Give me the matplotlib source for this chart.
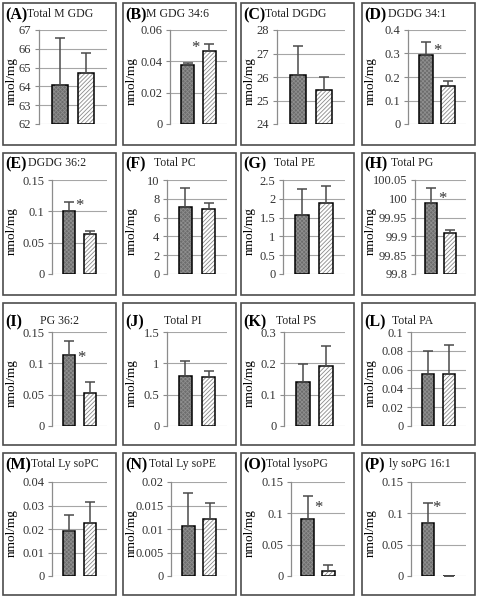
import matplotlib
matplotlib.use("Agg")
import matplotlib.pyplot as plt
from matplotlib.patches import Rectangle
from matplotlib.ticker import MultipleLocator, FuncFormatter

plt.rcParams['font.family'] = ['Liberation Serif', 'DejaVu Serif']
plt.rcParams['hatch.linewidth'] = 0.6

# panel data: two groups per panel (mean, upper error)
letters = list("ABCDEFGHIJKLMNOP")
names = ["Total M GDG", "M GDG 34:6", "Total DGDG", "DGDG 34:1",
         "DGDG 36:2", "Total PC", "Total PE", "Total PG",
         "PG 36:2", "Total PI", "Total PS", "Total PA",
         "Total Ly soPC", "Total Ly soPE", "Total lysoPG", "ly soPG 16:1"]
means = [[64.1, 64.7], [0.0375, 0.0465], [26.1, 25.45], [0.295, 0.16],
         [0.1, 0.064], [7.1, 6.9], [1.57, 1.9], [99.99, 99.908],
         [0.114, 0.052], [0.8, 0.78], [0.14, 0.19], [0.0555, 0.0555],
         [0.0193, 0.0227], [0.0107, 0.0122], [0.091, 0.008], [0.085, 0.0006]]
errs = [[2.45, 1.1], [0.0015, 0.0045], [1.2, 0.55], [0.053, 0.022],
        [0.015, 0.004], [2.05, 0.7], [0.68, 0.43], [0.038, 0.010],
        [0.021, 0.018], [0.23, 0.10], [0.057, 0.065], [0.0245, 0.0305],
        [0.0067, 0.0088], [0.007, 0.0034], [0.036, 0.010], [0.031, 0.0]]
ymins = [62, 0, 24, 0, 0, 0, 0, 99.8, 0, 0, 0, 0, 0, 0, 0, 0]
ymaxs = [67, 0.06, 28, 0.4, 0.15, 10, 2.5, 100.05, 0.15, 1.5, 0.3, 0.1,
         0.04, 0.02, 0.15, 0.15]
ysteps = [1, 0.02, 1, 0.1, 0.05, 2, 0.5, 0.05, 0.05, 0.5, 0.1, 0.02,
          0.01, 0.005, 0.05, 0.05]
# significance marks (x in category units, y in data units)
stars = [None, (0.37, 0.0485), None, (0.5, 0.31),
         (0.49, 0.108), None, None, (0.62, 100.0),
         (0.58, 0.109), None, None, None,
         None, None, (0.53, 0.108), (0.39, 0.108)]

# layout in pixels
W, H = 478, 601
box_left = [3, 123, 241, 362]
box_top = [3, 153, 303, 453]
box_w, box_h = 113, 142
ax_off = [36, 47, 36, 46, 49, 44, 42, 53, 49, 44, 43, 49, 49, 48, 50, 49]
title_gap = [0, 0, 0, 2, 1, 8, 8, 4, 18, 20, 10, 6, 0, 2, 0, 4]
title_dy = [12, 12, 12, 12, 11, 11, 11, 11, 19, 19, 19, 19, 12, 12, 12, 12]

fig = plt.figure(figsize=(W / 100, H / 100), dpi=100)


def fmt(v, p):
    return f"{round(v, 6):g}"


for i in range(16):
    r, c = divmod(i, 4)
    bl, bt = box_left[c], box_top[r]
    fig.patches.append(Rectangle((bl / W, 1 - (bt + box_h) / H), box_w / W, box_h / H,
                                 transform=fig.transFigure, fill=False,
                                 edgecolor='#4d4d4d', linewidth=1.2))
    al = bl + ax_off[i]
    ar = bl + box_w - 9
    at = bt + 27 + (2 if r >= 2 else 0)
    ah = 94
    ax = fig.add_axes([al / W, 1 - (at + ah) / H, (ar - al) / W, ah / H])

    x = [0, 1]
    m = means[i]
    e = errs[i]
    base = ymins[i]
    hts = [v - base for v in m]
    ax.bar(x[0], hts[0], 0.6, bottom=base, color='#6c6c6c', hatch='xxxxxxxx',
           edgecolor='#8e8e8e', linewidth=0, zorder=2)
    ax.bar(x[1], hts[1], 0.6, bottom=base, color='white', hatch='////////',
           edgecolor='#8a8a8a', linewidth=0, zorder=2)
    ax.bar(x, hts, 0.6, bottom=base, fill=False, edgecolor='black',
           linewidth=1.1, zorder=3)
    ax.errorbar(x, m, yerr=[[0, 0], e], fmt='none', ecolor='#4a4a4a',
                elinewidth=1.1, capsize=3.5, capthick=1.1, zorder=4)

    if stars[i] is not None:
        ax.text(stars[i][0], stars[i][1], '*', fontsize=12, color='#333333',
                ha='center', va='center', zorder=5)

    ax.set_xlim(-0.8, 1.8)
    ax.set_ylim(ymins[i], ymaxs[i])
    ax.yaxis.set_major_locator(MultipleLocator(ysteps[i]))
    ax.yaxis.set_major_formatter(FuncFormatter(fmt))
    ax.set_xticks([])
    for s in ['top', 'right', 'bottom']:
        ax.spines[s].set_visible(False)
    ax.spines['left'].set_color('#8c8c8c')
    ax.spines['left'].set_linewidth(0.9)
    ax.tick_params(axis='y', length=3, width=0.8, color='#8c8c8c',
                   labelsize=9, labelcolor='#333333', pad=2.5)
    ax.grid(axis='y', color='#a6a6a6', linewidth=0.8)
    ax.set_axisbelow(True)
    ax.patch.set_alpha(0)

    fig.text((bl + 9) / W, 1 - (at + ah / 2 + 4) / H, 'nmol/mg', rotation=90,
             ha='center', va='center', fontsize=9.5)

    t1 = fig.text((bl + 2) / W, 1 - (bt + title_dy[i]) / H, f'({letters[i]})',
                  fontsize=11.5, fontweight='bold', ha='left', va='center')
    ax.annotate(names[i], xy=(1, 0.5), xycoords=t1,
                xytext=(title_gap[i] * 0.72, 1), textcoords='offset points',
                fontsize=8.5, ha='left', va='center', color='#222222',
                annotation_clip=False)

fig.savefig('out.png', dpi=100)
